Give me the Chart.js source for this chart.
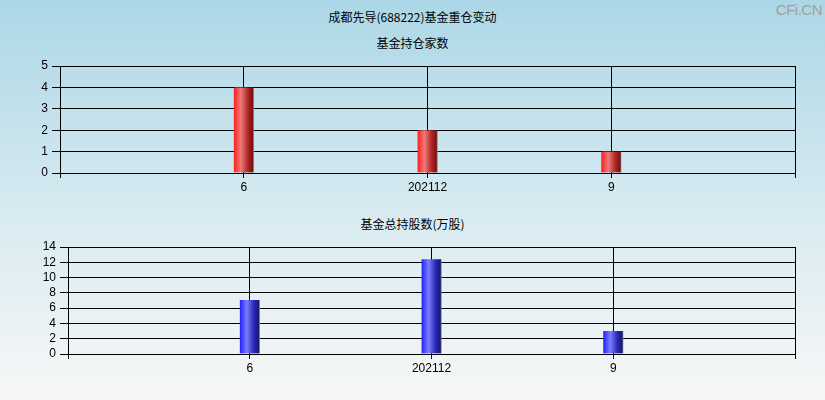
<!DOCTYPE html>
<html><head><meta charset="utf-8">
<script src="https://cdn.jsdelivr.net/npm/chart.js@4/dist/chart.umd.min.js"></script>
<style>
html,body{margin:0;padding:0;}
body{width:825px;height:400px;position:relative;overflow:hidden;
background:linear-gradient(to bottom,#acd7e6 0%,#d9ebf1 55%,#f7f7f7 100%);
font-family:"Noto Sans CJK SC","Noto Sans",sans-serif;}
.t{position:absolute;left:0;width:825px;text-align:center;font-size:12px;color:#000;line-height:14px;}
#wm{position:absolute;right:3px;top:1px;font-family:"Liberation Sans",Arial,sans-serif;font-size:15px;color:#a0a0a0;letter-spacing:-0.5px;}
canvas{position:absolute;left:0;}
</style></head>
<body>
<div class="t" style="top:10px;">成都先导(688222)基金重仓变动</div>
<div id="wm">CFi.CN</div>
<div class="t" style="top:36px;">基金持仓家数</div>
<div class="t" style="top:217px;">基金总持股数(万股)</div>
<div style="position:absolute;left:0;top:0;width:825px;height:200px;"><canvas id="c1"></canvas></div>
<div style="position:absolute;left:0;top:200px;width:825px;height:200px;"><canvas id="c2"></canvas></div>
<script>
const categories = ['6', '202112', '9'];
const fundCount = [4, 2, 1];
const totalShares = [7.07, 12.4, 3.01];
const countTicks = [0, 1, 2, 3, 4, 5];
const sharesTicks = [0, 2, 4, 6, 8, 10, 12, 14];

const labels = [''].concat(categories, ['']);
const pad = arr => [null].concat(arr, [null]);

function grad(stops){
  return function(ctx){
    const chart = ctx.chart;
    const xs = chart.scales && chart.scales.x;
    if(!xs) return stops[0][1];
    const x = xs.getPixelForValue(ctx.dataIndex);
    if(!isFinite(x)) return stops[0][1];
    const g = chart.ctx.createLinearGradient(x-10,0,x+10,0);
    stops.forEach(s=>g.addColorStop(s[0],s[1]));
    return g;
  };
}
const redStops = [[0,'#ff1c1c'],[0.35,'#f07a7a'],[0.7,'#b02828'],[1,'#6e0808']];
const blueStops = [[0,'#2020ff'],[0.35,'#7c7cff'],[0.7,'#2a2ab8'],[1,'#121266']];

function make(id, data, stops, max, step, tickVals, padLeft, areaTop, areaBottom){
  return new Chart(document.getElementById(id), {
    type:'bar',
    data:{labels:labels, datasets:[{data:pad(data), backgroundColor:grad(stops),
      borderColor:'#8a8a8a', borderWidth:{left:0,top:0,bottom:0,right:1}, borderSkipped:false,
      barThickness:20}]},
    options:{
      responsive:true, maintainAspectRatio:false, animation:false,
      devicePixelRatio:1,
      layout:{padding:{left:0,right:30,top:areaTop,bottom:0}},
      plugins:{legend:{display:false},tooltip:{enabled:false},title:{display:false}},
      scales:{
        x:{offset:false,
          grid:{offset:false,color:'#000',lineWidth:1,tickLength:5,drawTicks:true,tickColor:'#000'},
          border:{color:'#000',width:1},
          ticks:{color:'#000',font:{family:'"Liberation Sans",Arial,sans-serif',size:12},padding:2,maxRotation:0,autoSkip:false},
          afterFit:s=>{s.height=200-areaBottom;}},
        y:{min:0,max:max,
          afterBuildTicks:s=>{s.ticks=tickVals.map(v=>({value:v}));},
          grid:{color:'#000',lineWidth:1,tickLength:8,tickColor:'#000'},
          border:{color:'#000',width:1},
          ticks:{stepSize:step,autoSkip:false,color:'#000',font:{family:'"Liberation Sans",Arial,sans-serif',size:12},padding:4},
          afterFit:s=>{s.width=padLeft;}}
      }
    }
  });
}
make('c1', fundCount, redStops, 5, 1, countTicks, 60, 66, 173);
make('c2', totalShares, blueStops, 14, 2, sharesTicks, 68, 47, 154);
</script>
</body></html>
